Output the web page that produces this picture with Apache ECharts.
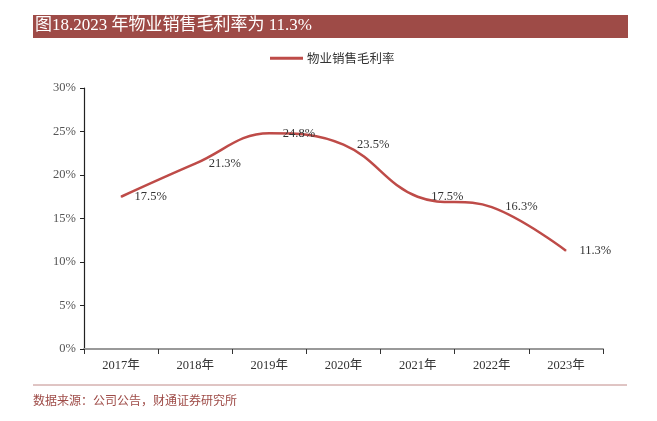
<!DOCTYPE html>
<html><head><meta charset="utf-8">
<script src="https://cdn.jsdelivr.net/npm/echarts@6/dist/echarts.min.js"></script>
<style>html,body{margin:0;padding:0;background:#fff}#c{width:657px;height:421px}</style>
</head><body><div id="c"></div>
<script>
const categories = ['2017年','2018年','2019年','2020年','2021年','2022年','2023年'];
const seriesName = '物业销售毛利率';
const values = [17.5, 21.3, 24.8, 23.5, 17.5, 16.3, 11.3];
const titleText = '图18.2023 年物业销售毛利率为 11.3%';
const sourceText = '数据来源：公司公告，财通证券研究所';
const serif = '"Liberation Serif","Times New Roman","Noto Sans CJK SC",serif';

const chart = echarts.init(document.getElementById('c'));
chart.setOption({
  animation: false,
  legend: {
    top: 52, left: 270, padding: 0,
    itemWidth: 33, itemHeight: 3, itemGap: 10,
    icon: 'rect',
    textStyle: {fontFamily: '"Noto Sans CJK SC",sans-serif', fontSize: 12.5, color: '#333', padding: [0, 0, 0, -1]},
    data: [seriesName]
  },
  grid: {left: 84, right: 54, top: 88, bottom: 72},
  xAxis: {
    type: 'category', data: categories, boundaryGap: true,
    axisLine: {lineStyle: {color: '#999', width: 2}},
    axisTick: {show: true, length: 5, lineStyle: {color: '#333'}},
    axisLabel: {margin: 10, color: '#333', fontFamily: serif, fontSize: 12.5}
  },
  yAxis: {
    type: 'value', min: 0, max: 30, interval: 5,
    axisLine: {show: true, lineStyle: {color: '#222', width: 1.2}},
    axisTick: {show: true, length: 4, lineStyle: {color: '#222'}},
    splitLine: {show: false},
    axisLabel: {formatter: '{value}%', color: '#555', fontFamily: serif, fontSize: 12.5, margin: 8}
  },
  series: [{
    name: seriesName, type: 'line', data: values, smooth: 0.4,
    symbol: 'circle', symbolSize: 1, showSymbol: true,
    lineStyle: {color: '#BE4B48', width: 2.5},
    itemStyle: {color: '#BE4B48'},
    label: {show: true, position: 'right', distance: 13, formatter: p => p.value.toFixed(1) + '%',
      color: '#333', fontFamily: serif, fontSize: 12.5}
  }],
  graphic: [
    {type: 'rect', shape: {x: 33, y: 15, width: 595, height: 23}, style: {fill: '#9E4B47'}},
    {type: 'text', left: 35, top: 17, style: {text: titleText, fill: '#fff', font: '17px ' + serif}},
    {type: 'line', shape: {x1: 33, y1: 385, x2: 627, y2: 385}, style: {stroke: '#C08A88', lineWidth: 1}},
    {type: 'text', left: 33, top: 394, style: {text: sourceText, fill: '#9E4B47', font: '12px "Noto Sans CJK SC",sans-serif'}}
  ]
});
</script></body></html>
